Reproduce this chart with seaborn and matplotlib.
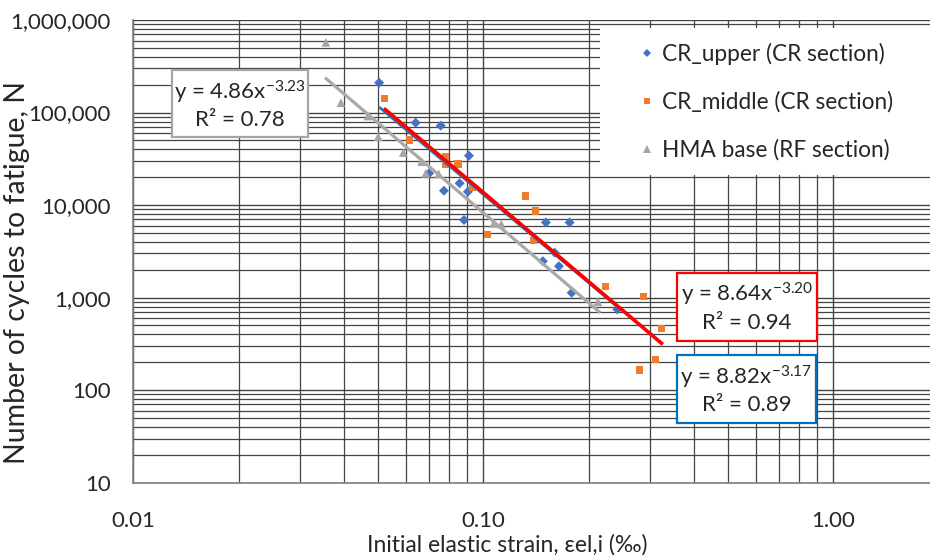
import numpy as np
import pandas as pd
import matplotlib
matplotlib.use("Agg")
import matplotlib.pyplot as plt
from matplotlib.patches import Rectangle
from matplotlib.lines import Line2D
import seaborn as sns

# ---------------- data ----------------
series_names = ["CR_upper (CR section)", "CR_middle (CR section)", "HMA base (RF section)"]

upper_strain = [0.0504, 0.0641, 0.0756, 0.0910, 0.0700, 0.0856, 0.0772, 0.0904,
                0.0881, 0.151, 0.1765, 0.160, 0.148, 0.1645, 0.1788, 0.2416]
upper_cycles = [210000, 77600, 72100, 34200, 22000, 17200, 14300, 13950,
                6900, 6490, 6490, 3060, 2475, 2186, 1128, 746]

middle_strain = [0.0521, 0.0617, 0.0781, 0.0781, 0.0847, 0.0929, 0.1319, 0.1411,
                 0.1027, 0.1395, 0.2236, 0.287, 0.3225, 0.3105, 0.2796]
middle_cycles = [141100, 50500, 33080, 27660, 27800, 15610, 12540, 8630,
                 4832, 4142, 1312, 1023, 464, 215, 165]

hma_strain = [0.0355, 0.0392, 0.0468, 0.0501, 0.0591, 0.0666, 0.0685, 0.0746,
              0.1071, 0.1126, 0.2125]
hma_cycles = [574000, 127700, 91750, 54800, 37000, 29430, 22040, 21670,
              6357, 6248, 903]

# power-law trendlines  y = a * x^b  (as printed on chart)
fit_a = [8.82, 8.64, 4.86]
fit_b = [-3.17, -3.20, -3.23]
fit_r2 = ["0.89", "0.94", "0.78"]
fit_xrange = [(0.0504, 0.245), (0.0520, 0.326), (0.0353, 0.216)]

x_ticks = [0.01, 0.1, 1.0]
x_ticklabels = ["0.01", "0.10", "1.00"]
y_ticks = [10, 100, 1000, 10000, 100000, 1000000]
y_ticklabels = ["10", "100", "1,000", "10,000", "100,000", "1,000,000"]

# ---------------- style ----------------
sns.set_theme(style="white")
plt.rcParams["font.family"] = ["Lato", "DejaVu Sans"]
plt.rcParams["mathtext.fontset"] = "custom"
plt.rcParams["mathtext.rm"] = "Lato"
plt.rcParams["mathtext.it"] = "Lato:italic"
plt.rcParams["mathtext.bf"] = "Lato:bold"

colors = {series_names[0]: "#4472C4", series_names[1]: "#ED7D31", series_names[2]: "#A5A5A5"}
markers = {series_names[0]: "D", series_names[1]: "s", series_names[2]: "^"}
sizes = {series_names[0]: 26, series_names[1]: 26, series_names[2]: 40}
line_colors = ["#2E75B6", "#FF0000", "#A9A9A9"]
line_widths = [2.0, 2.6, 2.3]

W, H = 930, 555
fig = plt.figure(figsize=(W / 100, H / 100), dpi=100)
x0, x1, y0, y1 = 133.3, 938.6, 20.0, 482.7
ax = fig.add_axes([x0 / W, 1 - y1 / H, (x1 - x0) / W, (y1 - y0) / H])

df = pd.DataFrame({
    "strain": upper_strain + middle_strain + hma_strain,
    "cycles": upper_cycles + middle_cycles + hma_cycles,
    "series": [series_names[0]] * len(upper_strain)
              + [series_names[1]] * len(middle_strain)
              + [series_names[2]] * len(hma_strain),
})

ax.set_xscale("log")
ax.set_yscale("log")
sns.scatterplot(data=df, x="strain", y="cycles", hue="series", style="series",
                size="series", sizes=sizes, palette=colors, markers=markers,
                edgecolor="none", linewidth=0, legend=False, ax=ax, zorder=3)

for a, b, (xa, xb), c, lw, z in zip(fit_a, fit_b, fit_xrange, line_colors, line_widths, [4, 5, 4]):
    xs = np.geomspace(xa, xb, 60)
    ax.plot(xs, a * xs ** b, color=c, lw=lw, zorder=z, solid_capstyle="butt")

ax.set_xlim(0.01, 2.0)
ax.set_ylim(10, 1e6)

ax.set_axisbelow(True)
ax.grid(True, which="major", color="#444444", lw=1.0)
ax.grid(True, which="minor", color="#444444", lw=0.9)
for s in ["top", "right"]:
    ax.spines[s].set_visible(False)
for s in ["left", "bottom"]:
    ax.spines[s].set_color("#7f7f7f")
    ax.spines[s].set_linewidth(1.2)

ax.set_xticks(x_ticks)
ax.set_xticklabels(x_ticklabels)
ax.set_yticks(y_ticks)
ax.set_yticklabels(y_ticklabels)
ax.tick_params(axis="both", which="major", length=5.5, width=1.0, color="#7f7f7f",
               direction="out", labelsize=16, labelcolor="#262626")
ax.tick_params(axis="y", which="major", pad=10.5)
ax.tick_params(axis="x", which="major", pad=15)
ax.tick_params(axis="both", which="minor", length=3, width=0.8, color="#bfbfbf",
               direction="inout")
ax.xaxis.set_minor_formatter(matplotlib.ticker.NullFormatter())
ax.yaxis.set_minor_formatter(matplotlib.ticker.NullFormatter())

ax.set_xlabel("Initial elastic strain, εel,i (‰)", fontsize=16.5, color="#262626", va="center")
ax.xaxis.set_label_coords((507 - x0) / (x1 - x0), -(545 - y1) / (y1 - y0))
ax.set_ylabel("Number of cycles to fatigue, N", fontsize=20.5, color="#262626",
              va="center", ha="center")
ax.yaxis.set_label_coords((17 - x0) / (x1 - x0), (y1 - 272) / (y1 - y0))

# legend background
def fig_rect(l, t, r, b, **kw):
    return Rectangle((l / W, 1 - b / H), (r - l) / W, (b - t) / H,
                     transform=fig.transFigure, **kw)

ax.add_artist(fig_rect(600, 28, 930, 175, facecolor="white", edgecolor="none", zorder=6))
handles = [Line2D([], [], ls="", marker=markers[n], color=colors[n], markeredgewidth=0,
                  markersize=ms) for n, ms in zip(series_names, [4.5, 5, 6])]
leg = fig.legend(handles, series_names, loc="upper left",
                 bbox_to_anchor=(636 / W, 1 - 42.5 / H), frameon=False,
                 fontsize=16.3, handlelength=0.95, handletextpad=0.2, labelspacing=1.17,
                 borderpad=0, borderaxespad=0, labelcolor="#262626")
leg.set_zorder(10)

# equation boxes
boxes = [((677, 355, 816, 422.7), "#0070C0"),
         ((677, 272.7, 817, 340.7), "#FF0000"),
         ((172, 70, 308, 137), "#A5A5A5")]
for (l, t, r, b), ec in boxes:
    ax.add_artist(fig_rect(l, t, r, b, facecolor="white", edgecolor=ec, lw=1.6, zorder=7))

for i, ((l, t, r, b), ec) in enumerate(boxes):
    cx = (l + r) / 2 / W
    eq = "y = {:.2f}x$^{{\\mathregular{{{:.2f}}}}}$".format(fit_a[i], fit_b[i])
    fig.text(cx, 1 - (t + 22) / H, eq, ha="center", va="center", fontsize=16,
             color="#262626", zorder=8)
    fig.text(cx, 1 - (t + 50) / H, "R² = " + fit_r2[i], ha="center", va="center",
             fontsize=16, color="#262626", zorder=8)

fig.savefig("out.png", dpi=100)
